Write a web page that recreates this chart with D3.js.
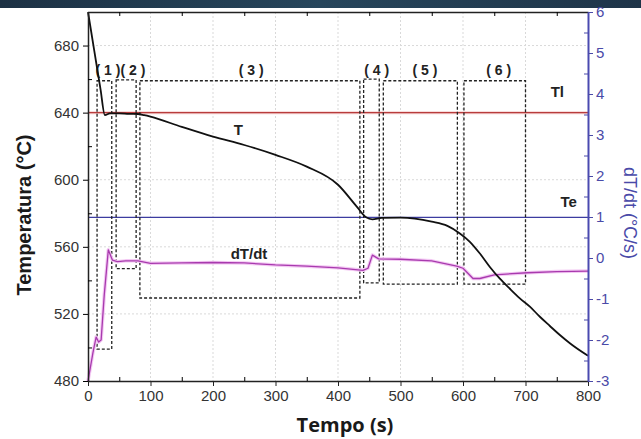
<!DOCTYPE html>
<html>
<head>
<meta charset="utf-8">
<script src="https://cdn.jsdelivr.net/npm/d3@7"></script>
<style>
body{margin:0;background:#fff;}
svg{display:block;font-family:"Liberation Sans",Arial,sans-serif;}
</style>
</head>
<body>
<div id="chart"></div>
<script>
// temperature curve T (°C) vs time (s)
const timeT = [0, 10, 20, 27, 35, 50, 65, 80, 90, 100, 150, 200, 250, 300, 350, 400, 430, 445, 455, 470, 500, 550, 575, 595, 611, 627, 643, 659, 675, 691, 707, 723, 739, 755, 771, 800];
const tempT = [700, 677, 654, 638.5, 639.5, 639.6, 639.3, 639.2, 638.5, 637.6, 631.5, 625.7, 620.7, 614.8, 607.8, 597, 584, 577.6, 576.4, 577.2, 577.4, 575, 572.5, 568, 563, 556, 548, 541, 535, 529.3, 524.3, 518.3, 512.8, 507.4, 502.5, 495];

// cooling rate dT/dt (°C/s) vs time (s)
const timeD = [0, 8, 13, 17, 21, 26, 32.5, 39, 47, 60, 80, 100, 150, 200, 250, 300, 350, 400, 440, 448, 455, 465, 500, 550, 590, 600, 616, 627, 650, 703, 750, 800];
const rateD = [-3, -2.3, -1.93, -2.05, -2.0, -0.9, 0.2, -0.05, -0.09, -0.07, -0.07, -0.13, -0.12, -0.11, -0.12, -0.17, -0.2, -0.24, -0.3, -0.25, 0.07, -0.02, -0.03, -0.07, -0.2, -0.25, -0.5, -0.5, -0.41, -0.36, -0.33, -0.32];

// stage boxes
const boxLabels = ["( 1 )", "( 2 )", "( 3 )", "( 4 )", "( 5 )", "( 6 )"];
const boxLabelTime = [32, 72, 261, 462, 539, 657];
const boxStart = [14.5, 45, 83, 441, 472.5, 601.5];
const boxEnd = [38, 77, 435, 466, 591, 700];
const boxLow = [499, 547, 529.5, 538.5, 537.8, 537.8];
const boxHigh = [659, 659.5, 659, 660, 659, 659];

const liquidus = 640;
const eutectic = 577.5;

const xTicks = [0, 100, 200, 300, 400, 500, 600, 700, 800];
const yTicks = [480, 520, 560, 600, 640, 680];
const rTicks = [-3, -2, -1, 0, 1, 2, 3, 4, 5, 6];

const W = 641, H = 439;
const M = {top: 12, right: 53, bottom: 58, left: 88};

const svg = d3.select("#chart").append("svg")
  .attr("width", W).attr("height", H);

// dark banner strip at the top
const grad = svg.append("defs").append("linearGradient").attr("id", "band");
grad.append("stop").attr("offset", "0%").attr("stop-color", "#1c3144");
grad.append("stop").attr("offset", "50%").attr("stop-color", "#27465c");
grad.append("stop").attr("offset", "100%").attr("stop-color", "#1e3448");
svg.append("rect").attr("x", 0).attr("y", 0).attr("width", W).attr("height", 8).attr("fill", "url(#band)");

const x = d3.scaleLinear().domain([0, 800]).range([M.left, W - M.right]);
const y = d3.scaleLinear().domain([480, 700]).range([H - M.bottom, M.top]);
const yR = d3.scaleLinear().domain([-3, 6]).range([H - M.bottom, M.top]);

// grid
const grid = svg.append("g").attr("stroke", "#d9d9d9").attr("stroke-width", 1).attr("stroke-dasharray", "2,2");
grid.selectAll(".gx").data(xTicks.slice(1, -1)).enter().append("line")
  .attr("x1", d => x(d)).attr("x2", d => x(d)).attr("y1", M.top).attr("y2", H - M.bottom);
grid.selectAll(".gy").data(yTicks.slice(1)).enter().append("line")
  .attr("x1", M.left).attr("x2", W - M.right).attr("y1", d => y(d)).attr("y2", d => y(d));

// Tl and Te reference lines
svg.append("line").attr("x1", M.left).attr("x2", W - M.right)
  .attr("y1", y(liquidus)).attr("y2", y(liquidus))
  .attr("stroke", "#f4d0d0").attr("stroke-width", 3);
svg.append("line").attr("x1", M.left).attr("x2", W - M.right)
  .attr("y1", y(liquidus)).attr("y2", y(liquidus))
  .attr("stroke", "#b83c3c").attr("stroke-width", 1.1);
svg.append("line").attr("x1", M.left).attr("x2", W - M.right)
  .attr("y1", y(eutectic)).attr("y2", y(eutectic))
  .attr("stroke", "#3c3ca0").attr("stroke-width", 1.2);

// dashed stage boxes
svg.append("g").selectAll("rect").data(boxLabels).enter().append("rect")
  .attr("x", (d, i) => x(boxStart[i]))
  .attr("y", (d, i) => y(boxHigh[i]))
  .attr("width", (d, i) => x(boxEnd[i]) - x(boxStart[i]))
  .attr("height", (d, i) => y(boxLow[i]) - y(boxHigh[i]))
  .attr("fill", "none").attr("stroke", "#222").attr("stroke-width", 1.3)
  .attr("stroke-dasharray", "3,2");

svg.append("g").selectAll("text").data(boxLabels).enter().append("text")
  .attr("x", (d, i) => x(boxLabelTime[i]))
  .attr("y", y(665.5))
  .attr("dy", "0.35em")
  .attr("text-anchor", "middle")
  .attr("font-size", 14).attr("font-weight", "bold").attr("fill", "#222")
  .text(d => d);

// dT/dt curve
const rateLine = d3.line().x((d, i) => x(timeD[i])).y(d => yR(d));
svg.append("path").datum(rateD).attr("d", rateLine)
  .attr("fill", "none").attr("stroke", "#f3c8f3").attr("stroke-width", 3.5).attr("stroke-linejoin", "round");
svg.append("path").datum(rateD).attr("d", rateLine)
  .attr("fill", "none").attr("stroke", "#a83aae").attr("stroke-width", 1.3).attr("stroke-linejoin", "round");

// T curve
const tempLine = d3.line().x((d, i) => x(timeT[i])).y(d => y(d)).curve(d3.curveMonotoneX);
svg.append("path").datum(tempT).attr("d", tempLine)
  .attr("fill", "none").attr("stroke", "#111").attr("stroke-width", 1.8);

// curve labels
const lab = [["T", 240.5, 629.7], ["dT/dt", 257.6, 556], ["Tl", 751, 652.3], ["Te", 769, 586.7]];
svg.append("g").selectAll("text").data(lab).enter().append("text")
  .attr("x", d => x(d[1])).attr("y", d => y(d[2])).attr("dy", "0.35em")
  .attr("text-anchor", "middle").attr("font-size", 15).attr("font-weight", "bold").attr("fill", "#222")
  .text(d => d[0]);

// axes
const plain = d => String(d);
const tickStyle = g => {
  g.attr("font-family", null).attr("font-size", null);
  g.selectAll("text").attr("font-size", 15);
};

const bottomAxis = svg.append("g").attr("transform", `translate(0,${H - M.bottom})`)
  .call(d3.axisBottom(x).tickValues(xTicks).tickFormat(plain).tickSize(5).tickPadding(4).tickSizeOuter(0));
bottomAxis.call(tickStyle);
bottomAxis.selectAll("text").attr("fill", "#333");
bottomAxis.selectAll("line").attr("stroke", "#222");
bottomAxis.select(".domain").attr("stroke", "#222").attr("stroke-width", 1.5);
svg.append("g").attr("transform", `translate(0,${H - M.bottom})`)
  .call(d3.axisBottom(x).tickValues(d3.range(50, 800, 100)).tickSize(-4).tickFormat(""))
  .call(g => g.select(".domain").remove());

const topAxis = svg.append("g").attr("transform", `translate(0,${M.top})`)
  .call(d3.axisTop(x).tickValues(d3.range(50, 800, 100)).tickSize(-4).tickFormat("").tickSizeOuter(0));
topAxis.select(".domain").attr("stroke", "#222").attr("stroke-width", 1.5);

const leftAxis = svg.append("g").attr("transform", `translate(${M.left},0)`)
  .call(d3.axisLeft(y).tickValues(yTicks).tickFormat(plain).tickSize(5).tickPadding(4).tickSizeOuter(0));
leftAxis.call(tickStyle);
leftAxis.selectAll("text").attr("fill", "#333");
leftAxis.select(".domain").attr("stroke", "#222").attr("stroke-width", 1.5);
svg.append("g").attr("transform", `translate(${M.left},0)`)
  .call(d3.axisLeft(y).tickValues(d3.range(500, 700, 40)).tickSize(-4).tickFormat(""))
  .call(g => g.select(".domain").remove());

const blue = "#4a4aa8";
const rightAxis = svg.append("g").attr("transform", `translate(${W - M.right},0)`)
  .call(d3.axisRight(yR).tickValues(rTicks).tickFormat(plain).tickSize(5).tickPadding(3).tickSizeOuter(0));
rightAxis.call(tickStyle);
rightAxis.selectAll("text").attr("fill", blue);
rightAxis.selectAll("line").attr("stroke", blue);
rightAxis.select(".domain").attr("stroke", "#4a4ab0").attr("stroke-width", 2);
svg.append("g").attr("transform", `translate(${W - M.right},0)`)
  .call(d3.axisRight(yR).tickValues(d3.range(-2.5, 6, 1)).tickSize(-4).tickFormat(""))
  .call(g => g.select(".domain").remove())
  .selectAll("line").attr("stroke", blue);

// axis titles
svg.append("text")
  .attr("transform", `translate(24,${215}) rotate(-90)`)
  .attr("text-anchor", "middle").attr("dy", "0.35em")
  .attr("font-size", 20).attr("font-weight", "bold").attr("fill", "#1a1a1a")
  .text("Temperatura (°C)");

svg.append("text")
  .attr("x", 345).attr("y", 432)
  .attr("text-anchor", "middle")
  .attr("font-family", "'Open Sans',sans-serif")
  .attr("font-size", 20).attr("font-weight", "bold").attr("fill", "#1a1a1a")
  .text("Tempo (s)");

svg.append("text")
  .attr("transform", `translate(630,${213}) rotate(90)`)
  .attr("text-anchor", "middle").attr("dy", "0.35em")
  .attr("font-size", 18).attr("fill", blue)
  .text("dT/dt (°C/s)");
</script>
</body>
</html>
